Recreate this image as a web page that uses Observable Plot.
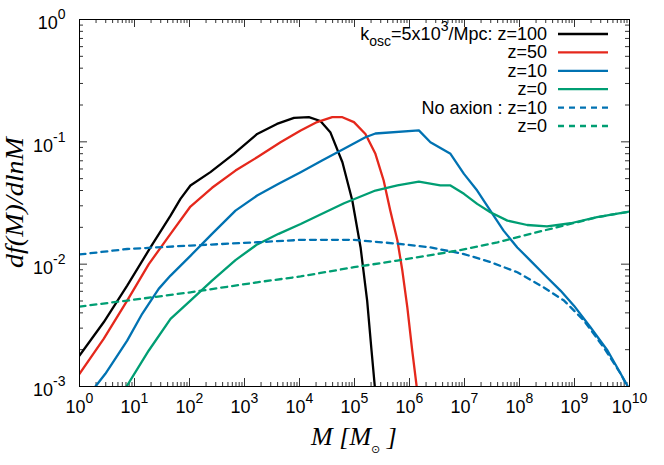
<!DOCTYPE html>
<html><head><meta charset="utf-8">
<script src="https://cdn.jsdelivr.net/npm/d3@7"></script>
<script src="https://cdn.jsdelivr.net/npm/@observablehq/plot@0.6"></script>
<style>
body{margin:0;background:#fff}
#chart{width:664px;height:465px}
</style>
</head><body><div id="chart"></div>
<script>
// ---- tick labels (exponents of 10) ----
const xTickExp = [0,1,2,3,4,5,6,7,8,9,10];
const yTickExp = [-3,-2,-1,0];

// ---- series: halo mass M [Msun] and df/dlnM ----
const z100M = [1,2.75,7.36,19.5,45.2,68.5,104,240,640,1700,3890,7940,14800,24000,36300,60300,91200,129000,170000,204000,234000];
const z100F = [1.79e-3,3.35e-3,6.68e-3,1.37e-2,2.49e-2,3.42e-2,4.40e-2,5.65e-2,7.98e-2,0.116,0.140,0.157,0.159,0.148,0.120,6.81e-2,3.31e-2,1.37e-2,5.01e-3,1.97e-3,1.0e-3];

const z50M = [1,2.75,7.36,18.2,45.2,104,257,686,1700,4520,10500,20900,39400,60300,97700,158000,240000,339000,447000,603000,741000,912000,1.12e6,1.35e6];
const z50F = [1.27e-3,2.45e-3,5.04e-3,1.00e-2,1.77e-2,2.96e-2,4.21e-2,5.82e-2,7.48e-2,9.93e-2,0.124,0.145,0.159,0.159,0.145,0.116,7.98e-2,4.83e-2,2.74e-2,1.56e-2,8.87e-3,4.45e-3,1.97e-3,1.0e-3];

const z10M = [1.95,2.95,7.36,13.8,27.5,45.2,104,257,686,1700,4170,10500,25700,64600,158000,240000,1.48e6,2.40e6,5.56e6,9.77e6,1.70e7,2.95e7,5.13e7,9.12e7,1.58e8,2.75e8,5.56e8,9.77e8,1.95e9,3.98e9,6.92e9,9.33e9];
const z10F = [1.0e-3,1.27e-3,2.37e-3,3.93e-3,6.28e-3,8.07e-3,1.17e-2,1.77e-2,2.74e-2,3.64e-2,4.54e-2,5.65e-2,7.03e-2,8.77e-2,0.109,0.117,0.124,9.93e-2,7.98e-2,5.47e-2,4.00e-2,2.74e-2,1.88e-2,1.37e-2,1.07e-2,8.32e-3,6.08e-3,4.58e-3,3.05e-3,1.97e-3,1.27e-3,1.0e-3];

const z0M = [7.16,18.2,45.2,104,257,686,1700,4170,10500,25700,64600,240000,603000,1.48e6,3.63e6,5.56e6,9.77e6,1.70e7,2.95e7,6.03e7,1.38e8,3.16e8,8.51e8,2.57e9,1e10];
const z0F = [1.0e-3,1.97e-3,3.57e-3,5.04e-3,7.34e-3,1.08e-2,1.45e-2,1.77e-2,2.13e-2,2.58e-2,3.15e-2,4.00e-2,4.40e-2,4.73e-2,4.40e-2,4.40e-2,3.76e-2,3.11e-2,2.66e-2,2.27e-2,2.09e-2,2.04e-2,2.16e-2,2.42e-2,2.69e-2];

const noAx10M = [1,7.36,104,1700,10500,97700,603000,2.40e6,9.77e6,2.95e7,9.12e7,2.75e8,6.46e8,1.48e9,3.39e9,6.92e9,9.12e9];
const noAx10F = [1.20e-2,1.33e-2,1.42e-2,1.51e-2,1.58e-2,1.58e-2,1.47e-2,1.37e-2,1.21e-2,1.04e-2,8.59e-3,6.47e-3,5.04e-3,3.46e-3,2.09e-3,1.27e-3,1.0e-3];

const noAx0M = [1,7.36,104,1700,10500,97700,603000,7.41e6,3.98e7,1.58e8,6.46e8,2.57e9,1e10];
const noAx0F = [4.50e-3,5.04e-3,5.89e-3,7.11e-3,7.94e-3,9.44e-3,1.07e-2,1.29e-2,1.51e-2,1.77e-2,2.07e-2,2.42e-2,2.69e-2];

const seriesLabels = ["z=100","z=50","z=10","z=0","No axion : z=10","z=0"];
const seriesColors = ["#000000","#e5281c","#0072b2","#009e73","#0072b2","#009e73"];
const seriesDashed = [false,false,false,false,true,true];

const seriesData = [[z100M,z100F],[z50M,z50F],[z10M,z10F],[z0M,z0F],[noAx10M,noAx10F],[noAx0M,noAx0F]];

const W = 664, H = 465, mL = 79, mR = 35, mT = 19, mB = 79;
const innerH = H - mT - mB, innerW = W - mL - mR;

const xMajor = xTickExp.map(e => Math.pow(10, e));
const yMajor = yTickExp.map(e => Math.pow(10, e));
const xMinor = [], yMinor = [];
for (let e = 0; e < 10; e++) for (let k = 2; k <= 9; k++) xMinor.push(k * Math.pow(10, e));
for (let e = -3; e < 0; e++) for (let k = 2; k <= 9; k++) yMinor.push(k * Math.pow(10, e));

const tickStroke = "#333";
const lineMarks = seriesData.map(([M, F], i) =>
  Plot.line(M.map((m, j) => ({M: m, f: F[j]})), {
    x: "M", y: "f", stroke: seriesColors[i], strokeWidth: 2.3,
    strokeDasharray: seriesDashed[i] ? "6,5" : null, clip: true
  })
);

const plot = Plot.plot({
  width: W, height: H,
  marginLeft: mL, marginRight: mR, marginTop: mT, marginBottom: mB,
  x: {type: "log", domain: [1, 1e10]},
  y: {type: "log", domain: [1e-3, 1]},
  style: {fontFamily: "'Liberation Sans', Arial, sans-serif", fontSize: "18px", background: "#fff", color: "#000"},
  marks: [
    // inward ticks on all four sides
    Plot.ruleX(xMajor, {stroke: tickStroke, insetTop: innerH - 8}),
    Plot.ruleX(xMajor, {stroke: tickStroke, insetBottom: innerH - 8}),
    Plot.ruleX(xMinor, {stroke: tickStroke, insetTop: innerH - 4}),
    Plot.ruleX(xMinor, {stroke: tickStroke, insetBottom: innerH - 4}),
    Plot.ruleY(yMajor, {stroke: tickStroke, insetRight: innerW - 8}),
    Plot.ruleY(yMajor, {stroke: tickStroke, insetLeft: innerW - 8}),
    Plot.ruleY(yMinor, {stroke: tickStroke, insetRight: innerW - 4}),
    Plot.ruleY(yMinor, {stroke: tickStroke, insetLeft: innerW - 4}),
    Plot.axisX(xMajor, {tickSize: 0, tickPadding: 14, tickFormat: d => "10^" + Math.round(Math.log10(d)), label: null}),
    Plot.axisY(yMajor, {tickSize: 0, tickPadding: 14, dy: 4, tickFormat: d => "10^" + Math.round(Math.log10(d)), label: null}),
    ...lineMarks,
    Plot.frame({stroke: "#000", strokeWidth: 1})
  ]
});
document.getElementById("chart").appendChild(plot);

const svg = d3.select(plot);
// superscript exponents in tick labels
svg.selectAll('g[aria-label="x-axis tick label"] text, g[aria-label="y-axis tick label"] text').each(function() {
  const t = d3.select(this);
  const s = t.text();
  const parts = s.split("^");
  t.text(parts[0]);
  t.append("tspan").attr("dy", -10).attr("font-size", 14).text(parts[1]);
});

// axis titles
const serif = "'Liberation Serif', 'Times New Roman', serif";
const xt = svg.append("text").attr("x", mL + innerW / 2).attr("y", 445)
  .attr("text-anchor", "middle").attr("font-family", serif).attr("font-style", "italic").attr("font-size", 26);
xt.append("tspan").text("M [M");
xt.append("tspan").attr("font-size", 11).attr("dy", 8).attr("font-style", "normal").attr("font-family", "'DejaVu Sans', sans-serif").text("\u2299");
xt.append("tspan").attr("dy", -8).text(" ]");

svg.append("text").attr("transform", `translate(23,${mT + innerH / 2}) rotate(-90)`)
  .attr("text-anchor", "middle").attr("font-family", serif).attr("font-style", "italic").attr("font-size", 26)
  .attr("textLength", 131).attr("lengthAdjust", "spacingAndGlyphs")
  .text("df(M)/dlnM");

// legend
const leg = svg.append("g").attr("font-family", "'Liberation Sans', Arial, sans-serif").attr("font-size", 18);
seriesLabels.forEach((lab, i) => {
  const y = 34 + i * 18.4;
  leg.append("line").attr("x1", 558).attr("x2", 608).attr("y1", y).attr("y2", y)
    .attr("stroke", seriesColors[i]).attr("stroke-width", 2.3)
    .attr("stroke-dasharray", seriesDashed[i] ? "6,5" : null);
  const t = leg.append("text").attr("x", 547).attr("y", y + 6).attr("text-anchor", "end");
  if (i === 0) {
    t.append("tspan").text("k");
    t.append("tspan").attr("font-size", 14).attr("dy", 6).text("osc");
    t.append("tspan").attr("dy", -6).text("=5x10");
    t.append("tspan").attr("font-size", 14).attr("dy", -9).text("3");
    t.append("tspan").attr("dy", 9).text("/Mpc: " + lab);
  } else {
    t.text(lab);
  }
});
</script>
</body></html>
